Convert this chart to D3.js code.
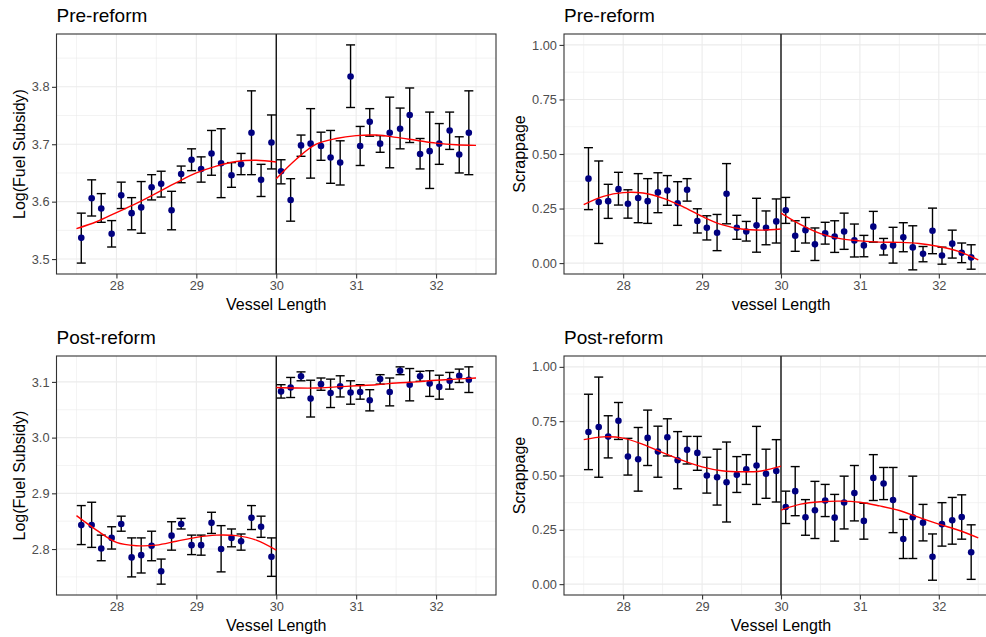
<!DOCTYPE html>
<html>
<head>
<meta charset="utf-8">
<script src="https://cdn.jsdelivr.net/npm/d3@7"></script>
<style>
  body { margin: 0; background: #ffffff; }
  svg { display: block; }
  text { font-family: "Liberation Sans", Arial, Helvetica, sans-serif; }
</style>
</head>
<body>
<svg id="chart" width="986" height="637"></svg>
<script>
// Binned vessel-length centres on each side of the 30 m cutoff
const lengthLeft  = [27.56, 27.69, 27.81, 27.94, 28.06, 28.19, 28.31, 28.44, 28.56, 28.69,
                     28.81, 28.94, 29.06, 29.19, 29.31, 29.44, 29.56, 29.69, 29.81, 29.94];
const lengthRight = [30.06, 30.18, 30.31, 30.43, 30.56, 30.68, 30.80, 30.93, 31.05, 31.17,
                     31.30, 31.42, 31.55, 31.67, 31.80, 31.92, 32.04, 32.17, 32.29, 32.41];
const cutoff = 30;

// Pre-reform: log fuel subsidy (bin mean, lower and upper CI)
const preFuelMean = [3.537, 3.606, 3.588, 3.544, 3.611, 3.580, 3.590, 3.625, 3.631, 3.585,
                     3.648, 3.673, 3.657, 3.684, 3.667, 3.646, 3.665, 3.720, 3.638, 3.703,
                     3.653, 3.603, 3.698, 3.701, 3.697, 3.677, 3.668, 3.818, 3.697, 3.739,
                     3.701, 3.720, 3.727, 3.751, 3.683, 3.688, 3.701, 3.724, 3.682, 3.720];
const preFuelLo   = [3.493, 3.575, 3.564, 3.521, 3.588, 3.551, 3.545, 3.603, 3.608, 3.551,
                     3.633, 3.654, 3.634, 3.646, 3.607, 3.625, 3.647, 3.647, 3.609, 3.657,
                     3.631, 3.566, 3.679, 3.641, 3.672, 3.632, 3.629, 3.764, 3.663, 3.714,
                     3.686, 3.659, 3.692, 3.703, 3.657, 3.623, 3.665, 3.691, 3.650, 3.647];
const preFuelHi   = [3.580, 3.638, 3.614, 3.567, 3.634, 3.607, 3.635, 3.647, 3.653, 3.618,
                     3.662, 3.692, 3.678, 3.724, 3.727, 3.668, 3.684, 3.793, 3.665, 3.751,
                     3.673, 3.640, 3.716, 3.762, 3.721, 3.724, 3.706, 3.873, 3.731, 3.762,
                     3.715, 3.782, 3.763, 3.798, 3.710, 3.756, 3.736, 3.756, 3.713, 3.793];

// Pre-reform: scrappage
const preScrapMean = [0.387, 0.280, 0.284, 0.339, 0.272, 0.298, 0.284, 0.324, 0.333, 0.274,
                      0.336, 0.193, 0.162, 0.139, 0.318, 0.162, 0.145, 0.173, 0.162, 0.191,
                      0.242, 0.125, 0.151, 0.086, 0.136, 0.122, 0.145, 0.104, 0.081, 0.167,
                      0.075, 0.081, 0.118, 0.072, 0.043, 0.148, 0.035, 0.089, 0.047, 0.026];
const preScrapLo   = [0.245, 0.090, 0.205, 0.266, 0.206, 0.185, 0.182, 0.231, 0.265, 0.173,
                      0.284, 0.138, 0.106, 0.057, 0.180, 0.109, 0.101, 0.050, 0.084, 0.092,
                      0.182, 0.054, 0.092, 0.012, 0.087, 0.049, 0.063, 0.028, 0.029, 0.096,
                      0.037, 0.000, 0.052, -0.031, 0.006, 0.043, -0.005, 0.023, 0.002, -0.028];
const preScrapHi   = [0.529, 0.468, 0.361, 0.416, 0.336, 0.410, 0.387, 0.414, 0.401, 0.373,
                      0.387, 0.249, 0.217, 0.223, 0.456, 0.219, 0.191, 0.297, 0.239, 0.294,
                      0.301, 0.194, 0.209, 0.161, 0.187, 0.194, 0.229, 0.179, 0.127, 0.237,
                      0.113, 0.164, 0.185, 0.171, 0.076, 0.252, 0.073, 0.151, 0.092, 0.084];

// Post-reform: log fuel subsidy
const postFuelMean = [2.843, 2.843, 2.801, 2.820, 2.845, 2.785, 2.789, 2.806, 2.760, 2.824,
                      2.845, 2.807, 2.807, 2.847, 2.800, 2.820, 2.814, 2.856, 2.840, 2.786,
                      3.083, 3.090, 3.110, 3.070, 3.096, 3.080, 3.092, 3.081, 3.082, 3.067,
                      3.105, 3.082, 3.120, 3.095, 3.110, 3.097, 3.091, 3.102, 3.111, 3.104];
const postFuelLo   = [2.808, 2.803, 2.779, 2.800, 2.832, 2.750, 2.757, 2.779, 2.737, 2.798,
                      2.836, 2.790, 2.789, 2.828, 2.759, 2.804, 2.798, 2.835, 2.821, 2.751,
                      3.071, 3.072, 3.102, 3.037, 3.085, 3.054, 3.073, 3.060, 3.069, 3.048,
                      3.096, 3.057, 3.113, 3.066, 3.101, 3.074, 3.069, 3.087, 3.099, 3.081];
const postFuelHi   = [2.878, 2.884, 2.825, 2.840, 2.859, 2.820, 2.820, 2.832, 2.782, 2.849,
                      2.855, 2.825, 2.825, 2.866, 2.842, 2.836, 2.827, 2.878, 2.859, 2.820,
                      3.095, 3.108, 3.118, 3.103, 3.107, 3.105, 3.111, 3.102, 3.095, 3.086,
                      3.113, 3.107, 3.127, 3.124, 3.119, 3.120, 3.112, 3.117, 3.123, 3.127];

// Post-reform: scrappage
const postScrapMean = [0.700, 0.723, 0.679, 0.752, 0.587, 0.575, 0.673, 0.610, 0.676, 0.570,
                       0.618, 0.604, 0.500, 0.492, 0.469, 0.503, 0.529, 0.546, 0.508, 0.521,
                       0.355, 0.428, 0.308, 0.340, 0.385, 0.306, 0.376, 0.419, 0.291, 0.489,
                       0.463, 0.387, 0.208, 0.308, 0.283, 0.126, 0.276, 0.294, 0.309, 0.147];
const postScrapLo   = [0.527, 0.492, 0.581, 0.666, 0.502, 0.428, 0.546, 0.492, 0.590, 0.439,
                       0.553, 0.524, 0.419, 0.364, 0.286, 0.422, 0.459, 0.367, 0.395, 0.378,
                       0.279, 0.315, 0.225, 0.210, 0.311, 0.198, 0.254, 0.291, 0.207, 0.385,
                       0.389, 0.237, 0.118, 0.118, 0.199, 0.018, 0.175, 0.184, 0.207, 0.022];
const postScrapHi   = [0.874, 0.953, 0.775, 0.836, 0.671, 0.721, 0.801, 0.727, 0.761, 0.702,
                       0.680, 0.680, 0.584, 0.621, 0.654, 0.587, 0.596, 0.726, 0.621, 0.665,
                       0.428, 0.541, 0.389, 0.473, 0.459, 0.413, 0.497, 0.546, 0.372, 0.596,
                       0.537, 0.537, 0.298, 0.497, 0.367, 0.231, 0.375, 0.399, 0.411, 0.273];

// Smoothed fits evaluated on a grid either side of the cutoff
const fitGridLeft  = [27.5, 27.75, 28.0, 28.25, 28.5, 28.75, 29.0, 29.25, 29.5, 29.75, 30.0];
const fitGridRight = [30.0, 30.25, 30.5, 30.75, 31.0, 31.25, 31.5, 31.75, 32.0, 32.25, 32.5];
const preFuelFitL  = [3.553, 3.565, 3.581, 3.597, 3.615, 3.633, 3.650, 3.662, 3.670, 3.672, 3.669];
const preFuelFitR  = [3.640, 3.674, 3.700, 3.710, 3.715, 3.716, 3.712, 3.707, 3.702, 3.699, 3.698];
const preScrapFitL = [0.268, 0.306, 0.323, 0.321, 0.298, 0.260, 0.214, 0.176, 0.156, 0.151, 0.156];
const preScrapFitR = [0.229, 0.176, 0.135, 0.112, 0.102, 0.096, 0.095, 0.090, 0.076, 0.054, 0.015];
const postFuelFitL = [2.860, 2.834, 2.812, 2.806, 2.807, 2.814, 2.821, 2.825, 2.824, 2.816, 2.798];
const postFuelFitR = [3.090, 3.089, 3.089, 3.091, 3.093, 3.095, 3.098, 3.100, 3.103, 3.105, 3.107];
const postScrapFitL = [0.665, 0.678, 0.672, 0.643, 0.605, 0.570, 0.540, 0.522, 0.517, 0.521, 0.543];
const postScrapFitR = [0.341, 0.368, 0.379, 0.382, 0.377, 0.360, 0.339, 0.307, 0.276, 0.248, 0.213];

// Axis breaks
const xTicks = [28, 29, 30, 31, 32];
const xMinor = [27.5, 28.5, 29.5, 30.5, 31.5, 32.5];
const preFuelTicks = [3.5, 3.6, 3.7, 3.8];
const preFuelMinor = [3.55, 3.65, 3.75, 3.85];
const postFuelTicks = [2.8, 2.9, 3.0, 3.1];
const postFuelMinor = [2.75, 2.85, 2.95, 3.05];
const scrapTicks = [0, 0.25, 0.5, 0.75, 1.0];
const scrapMinor = [0.125, 0.375, 0.625, 0.875];

const lengths = lengthLeft.concat(lengthRight);

const columns = [
  { left: 56.5, right: 496, yTitleX: 25 },
  { left: 564, right: 998, yTitleX: 524.5 }
];
const rows = [
  { top: 34, bottom: 274 },
  { top: 356, bottom: 595 }
];

const panels = [
  { col: 0, row: 0, title: "Pre-reform", xLabel: "Vessel Length", yLabel: "Log(Fuel Subsidy)",
    mean: preFuelMean, lo: preFuelLo, hi: preFuelHi, fitL: preFuelFitL, fitR: preFuelFitR,
    ticks: preFuelTicks, minor: preFuelMinor, fmt: d3.format(".1f"), limits: null },
  { col: 1, row: 0, title: "Pre-reform", xLabel: "vessel Length", yLabel: "Scrappage",
    mean: preScrapMean, lo: preScrapLo, hi: preScrapHi, fitL: preScrapFitL, fitR: preScrapFitR,
    ticks: scrapTicks, minor: scrapMinor, fmt: d3.format(".2f"), limits: [0, 1] },
  { col: 0, row: 1, title: "Post-reform", xLabel: "Vessel Length", yLabel: "Log(Fuel Subsidy)",
    mean: postFuelMean, lo: postFuelLo, hi: postFuelHi, fitL: postFuelFitL, fitR: postFuelFitR,
    ticks: postFuelTicks, minor: postFuelMinor, fmt: d3.format(".1f"), limits: null },
  { col: 1, row: 1, title: "Post-reform", xLabel: "Vessel Length", yLabel: "Scrappage",
    mean: postScrapMean, lo: postScrapLo, hi: postScrapHi, fitL: postScrapFitL, fitR: postScrapFitR,
    ticks: scrapTicks, minor: scrapMinor, fmt: d3.format(".2f"), limits: [0, 1] }
];

const svg = d3.select("#chart");
svg.append("rect").attr("width", 986).attr("height", 637).attr("fill", "#ffffff");

const gridColor = "#EBEBEB";
const inkColor = "#333333";
const tickTextColor = "#4D4D4D";

// ggplot-style 5% padding around the data or fixed limits
function expand(lims) {
  const pad = (lims[1] - lims[0]) * 0.05;
  return [lims[0] - pad, lims[1] + pad];
}

panels.forEach(p => {
  const c = columns[p.col], r = rows[p.row];
  const w = c.right - c.left, h = r.bottom - r.top;

  const xDomain = expand(d3.extent(lengths.concat([27.5, 32.5])));
  const x = d3.scaleLinear().domain(xDomain).range([0, w]);
  const yLims = p.limits ? p.limits : [d3.min(p.lo), d3.max(p.hi)];
  const y = d3.scaleLinear().domain(expand(yLims)).range([h, 0]);

  const g = svg.append("g").attr("transform", `translate(${c.left},${r.top})`);

  // grid: minor then major
  const grid = g.append("g");
  grid.selectAll(".xminor").data(xMinor).join("line")
    .attr("x1", d => x(d)).attr("x2", d => x(d)).attr("y1", 0).attr("y2", h)
    .attr("stroke", gridColor).attr("stroke-width", 0.6);
  grid.selectAll(".yminor").data(p.minor).join("line")
    .attr("x1", 0).attr("x2", w).attr("y1", d => y(d)).attr("y2", d => y(d))
    .attr("stroke", gridColor).attr("stroke-width", 0.6);
  grid.selectAll(".xmajor").data(xTicks).join("line")
    .attr("x1", d => x(d)).attr("x2", d => x(d)).attr("y1", 0).attr("y2", h)
    .attr("stroke", gridColor).attr("stroke-width", 1.1);
  grid.selectAll(".ymajor").data(p.ticks).join("line")
    .attr("x1", 0).attr("x2", w).attr("y1", d => y(d)).attr("y2", d => y(d))
    .attr("stroke", gridColor).attr("stroke-width", 1.1);

  // cutoff line
  g.append("line")
    .attr("x1", x(cutoff)).attr("x2", x(cutoff)).attr("y1", 0).attr("y2", h)
    .attr("stroke", "#000000").attr("stroke-width", 1.3);

  const rowsData = lengths.map((len, i) => ({ len, m: p.mean[i], lo: p.lo[i], hi: p.hi[i] }));

  // error bars
  const cap = 4.5;
  const eb = g.append("g").attr("stroke", "#000000").attr("stroke-width", 1.4);
  eb.selectAll(".v").data(rowsData).join("line")
    .attr("x1", d => x(d.len)).attr("x2", d => x(d.len))
    .attr("y1", d => y(d.lo)).attr("y2", d => y(d.hi));
  eb.selectAll(".t").data(rowsData).join("line")
    .attr("x1", d => x(d.len) - cap).attr("x2", d => x(d.len) + cap)
    .attr("y1", d => y(d.hi)).attr("y2", d => y(d.hi));
  eb.selectAll(".b").data(rowsData).join("line")
    .attr("x1", d => x(d.len) - cap).attr("x2", d => x(d.len) + cap)
    .attr("y1", d => y(d.lo)).attr("y2", d => y(d.lo));

  // bin means
  g.append("g").selectAll("circle").data(rowsData).join("circle")
    .attr("cx", d => x(d.len)).attr("cy", d => y(d.m)).attr("r", 3.3)
    .attr("fill", "#000080");

  // fitted curves on each side of the cutoff
  const line = d3.line().x(d => x(d[0])).y(d => y(d[1])).curve(d3.curveCatmullRom.alpha(0.5));
  [[fitGridLeft, p.fitL], [fitGridRight, p.fitR]].forEach(([gx, gy]) => {
    g.append("path")
      .datum(gx.map((v, i) => [v, gy[i]]))
      .attr("d", line)
      .attr("fill", "none").attr("stroke", "#FF0000").attr("stroke-width", 1.4);
  });

  // panel border
  g.append("rect").attr("x", 0).attr("y", 0).attr("width", w).attr("height", h)
    .attr("fill", "none").attr("stroke", inkColor).attr("stroke-width", 1.1);

  // axes
  const xAxis = g.append("g").attr("transform", `translate(0,${h})`)
    .call(d3.axisBottom(x).tickValues(xTicks).tickFormat(d3.format("d")).tickSize(4.5).tickPadding(2));
  const yAxis = g.append("g")
    .call(d3.axisLeft(y).tickValues(p.ticks).tickFormat(p.fmt).tickSize(4.5).tickPadding(2.5));
  [xAxis, yAxis].forEach(a => {
    a.select(".domain").remove();
    a.selectAll(".tick line").attr("stroke", inkColor).attr("stroke-width", 1.1);
    a.selectAll(".tick text").attr("fill", tickTextColor)
      .style("font-size", "12.8px").style("font-family", '"Liberation Sans", Arial, sans-serif');
  });

  // titles
  svg.append("text")
    .attr("x", c.left).attr("y", r.top - 12.5)
    .attr("fill", "#000000").style("font-size", "19px")
    .text(p.title);
  svg.append("text")
    .attr("x", c.left + w / 2)
    .attr("y", r.bottom + 35.5)
    .attr("text-anchor", "middle").attr("fill", "#000000").style("font-size", "16px")
    .text(p.xLabel);
  svg.append("text")
    .attr("transform", `translate(${c.yTitleX},${r.top + h / 2}) rotate(-90)`)
    .attr("text-anchor", "middle").attr("fill", "#000000").style("font-size", "16px")
    .text(p.yLabel);
});
</script>
</body>
</html>
